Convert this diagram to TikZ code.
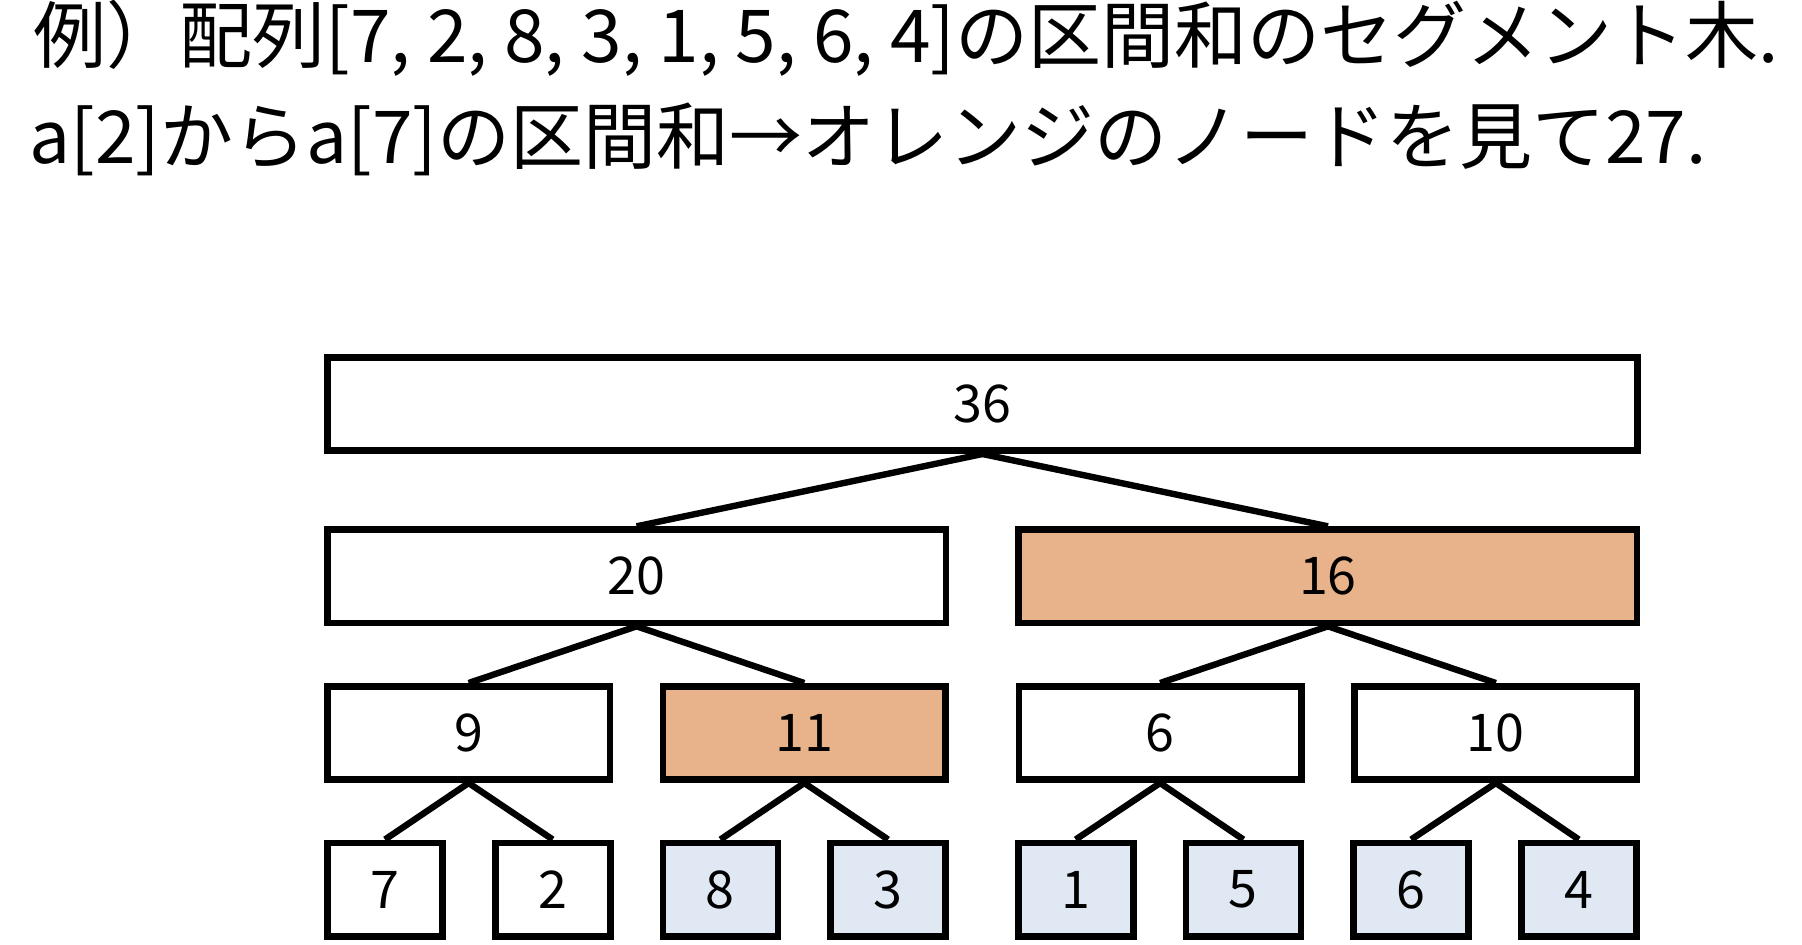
\documentclass[tikz,border=0pt]{standalone}
\usepackage{fontspec}
\setmainfont{Noto Sans CJK JP}
\newfontfamily\jp{Noto Sans CJK JP}
\definecolor{hiorange}{HTML}{E8B38A}
\definecolor{leafblue}{HTML}{DFE8F3}
\tikzset{
  box/.style={draw=black, line width=3.3pt, fill=white, inner sep=0pt, minimum height=46.7pt, font=\jp\fontsize{26pt}{30pt}\selectfont},
  topbox/.style={box, minimum width=655.2pt},
  midbox/.style={box, minimum width=309.2pt},
  lowbox/.style={box, minimum width=141.2pt},
  leafbox/.style={box, minimum width=57.5pt},
  hl/.style={fill=hiorange},
  leaf/.style={fill=leafblue},
  link/.style={line width=3.2pt, black},
  title/.style={anchor=base west, inner sep=0pt, font=\jp\fontsize{36.5pt}{40pt}\selectfont}
}
\begin{document}
\begin{tikzpicture}[x=0.5pt,y=-0.5pt]
\useasboundingbox (0,0) rectangle (1802,944);
\node[title] (t1) at (33,62) {例）配列[7, 2, 8, 3, 1, 5, 6, 4]の区間和のセグメント木.};
\node[title] (t2) at (29,163) {a[2]からa[7]の区間和→オレンジのノードを見て27.};

\node[topbox] (n36) at (982.5,404) {36};
\node[midbox] (n20) at (636.6,576.3) {20};
\node[midbox,hl] (n16) at (1327.9,576.3) {16};
\node[lowbox] (n9) at (468.6,733) {9};
\node[lowbox,hl] (n11) at (804.3,733) {11};
\node[lowbox] (n6) at (1160.1,733) {6};
\node[lowbox] (n10) at (1495.8,733) {10};
\node[leafbox] (a0) at (385.0,889.5) {7};
\node[leafbox] (a1) at (552.7,889.5) {2};
\node[leafbox,leaf] (a2) at (720.4,889.5) {8};
\node[leafbox,leaf] (a3) at (888.1,889.5) {3};
\node[leafbox,leaf] (a4) at (1075.7,889.5) {1};
\node[leafbox,leaf] (a5) at (1243.4,889.5) {5};
\node[leafbox,leaf] (a6) at (1411.1,889.5) {6};
\node[leafbox,leaf] (a7) at (1578.8,889.5) {4};

\foreach \p/\c in {n36/n20,n36/n16,n20/n9,n20/n11,n16/n6,n16/n10,n9/a0,n9/a1,n11/a2,n11/a3,n6/a4,n6/a5,n10/a6,n10/a7}
  \draw[link] (\p.south) -- (\c.north);
\end{tikzpicture}
\end{document}
